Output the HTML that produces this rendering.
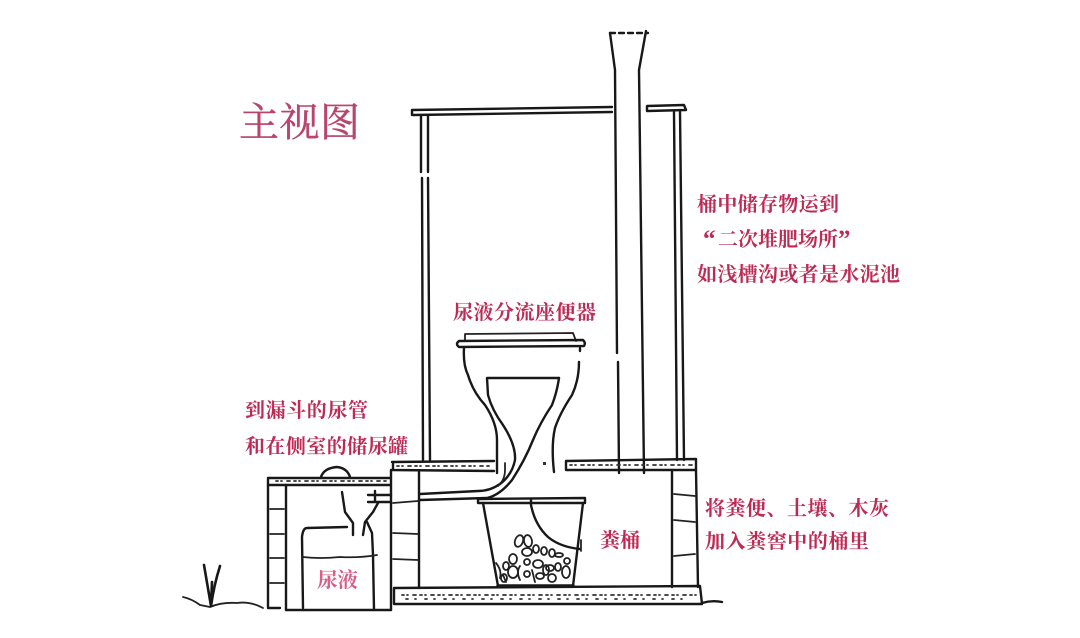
<!DOCTYPE html>
<html lang="zh"><head><meta charset="utf-8"><style>
html,body{margin:0;padding:0;background:#fff;width:1080px;height:638px;overflow:hidden}
svg{display:block}
text{font-family:"Liberation Serif","Noto Serif CJK SC",serif;fill:#bd2b55}
.l{fill:none;stroke:#181818;stroke-width:2.4;stroke-linecap:round;stroke-linejoin:round}
.t{fill:none;stroke:#222;stroke-width:1.8;stroke-linecap:round;stroke-linejoin:round}
.d{fill:none;stroke:#333;stroke-width:1.8;stroke-dasharray:2 3 1 5 3 4;stroke-linecap:round}
</style></head><body>
<svg width="1080" height="638" viewBox="0 0 1080 638" xmlns="http://www.w3.org/2000/svg">
<rect width="1080" height="638" fill="#fff"/>

<!-- chimney -->
<path class="l" d="M610 33L615 70L617 353M618 362L619 473"/>
<path class="l" d="M646 31L639 70L644 473"/>
<path class="l" d="M610 33H648" stroke-dasharray="5 4"/>
<!-- roof -->
<path class="l" d="M412 110L612 107M413 115L612 112M412 110V115"/>
<path class="l" d="M647 106L684 105L686 110L647 111Z"/>
<!-- room posts -->
<path class="l" d="M421 116L421 172M428 116V172M422 178L423 460M428 178L430 460"/>
<path class="l" d="M674 112L677 460M680 112L684 460"/>

<!-- toilet lid & seat -->
<path class="t" d="M465 341V334L573 333L576 341"/>
<path class="l" d="M459 341L583 340Q586 343 584 346L459 347Q455 344 459 341Z"/>
<path class="l" d="M464 348Q463 365 468 375Q473 392 485 405Q497 423 497 440V473"/>
<path class="l" d="M580 348V351M579 362Q579 380 572 395Q560 413 555 428Q551 445 554 472"/>
<path class="l" d="M488 378H559"/>
<path class="l" d="M487 378L488 395Q492 410 503 425Q516 445 515 460Q512 475 500 484Q490 491 478 491L420 494"/>
<path class="l" d="M559 378Q557 392 552 405Q540 423 533 440Q525 460 512 480Q500 495 487 498L420 500"/>
<path class="t" d="M505 463V470Q505 480 498 486"/>
<rect x="543" y="462" width="3" height="3" fill="#333"/>

<!-- floor slabs -->
<path class="l" d="M392 462L494 461M392 470L494 471M393 462V470"/>
<path class="d" d="M397 466H491"/>
<path class="l" d="M566 461L696 459V470L566 470Z"/>
<path class="d" d="M570 465H692"/>

<!-- main pit walls -->
<path class="l" d="M391 470V610M419 472V588"/>
<path class="t" d="M393 503L418 501M393 533L418 534M393 559L418 560"/>
<path class="l" d="M672 470V587M696 470L698 587"/>
<path class="t" d="M674 494L695 496M674 520L695 522M674 556L695 554"/>

<!-- base slab -->
<path class="l" d="M394 588L700 586L702 604H394Z"/>
<path class="d" d="M402 595H696"/>
<path class="d" d="M406 599H690" style="stroke-dasharray:2 7 1 9"/>
<path class="l" d="M702 603Q712 600 722 602"/>

<!-- bucket -->
<path class="l" d="M478 499L585 498V503L478 503Z"/>
<path class="l" d="M483 503L498 586M583 503L573 586"/>
<path class="l" d="M498 586H573" style="stroke-width:3.5"/>
<path class="l" d="M531 500V505Q535 525 548 537Q560 547 580 549"/>
<path class="t" d="M581 540V551"/>
<g class="t">
<ellipse cx="519" cy="541" rx="4" ry="6" transform="rotate(20 519 541)"/>
<ellipse cx="528" cy="541" rx="4" ry="6" transform="rotate(-10 528 541)"/>
<ellipse cx="527" cy="552" rx="5" ry="4"/>
<ellipse cx="536" cy="549" rx="3" ry="4"/>
<ellipse cx="544" cy="551" rx="3" ry="4"/>
<ellipse cx="552" cy="553" rx="3" ry="4"/>
<ellipse cx="559" cy="555" rx="4" ry="2"/>
<ellipse cx="513" cy="559" rx="4" ry="5"/>
<ellipse cx="506" cy="566" rx="3" ry="4"/>
<ellipse cx="527" cy="562" rx="3" ry="3"/>
<ellipse cx="538" cy="564" rx="5" ry="4"/>
<ellipse cx="550" cy="568" rx="4" ry="3"/>
<ellipse cx="513" cy="572" rx="5" ry="6"/>
<ellipse cx="527" cy="574" rx="3" ry="3"/>
<ellipse cx="540" cy="576" rx="4" ry="3"/>
<ellipse cx="552" cy="578" rx="4" ry="4"/>
<ellipse cx="566" cy="572" rx="4" ry="6"/>
<ellipse cx="567" cy="561" rx="3" ry="3"/>
<ellipse cx="546" cy="570" rx="3" ry="5"/>
<ellipse cx="558" cy="567" rx="3" ry="4"/>
<ellipse cx="504" cy="578" rx="3" ry="4"/>
<path d="M496 563Q502 570 500 578M503 575L506 582M520 566Q516 572 520 580M532 570L535 582"/>
</g>

<!-- side chamber -->
<path class="l" d="M268 478H390M268 485H390M268 478V485"/>
<path class="d" d="M276 481H386"/>
<path class="l" d="M321 477Q324 468 337 467Q347 468 350 477"/>
<path class="l" d="M268 485V607M286 485V610"/>
<path class="t" d="M270 509H284M270 534H284M270 558H284M270 583H284"/>
<path class="l" d="M268 608H280M286 610H391"/>
<!-- tank -->
<path class="l" d="M342 492L345 512L353 523V535"/>
<path class="l" d="M303 608L302 537Q303 528 307 528L347 527"/>
<path class="l" d="M378 503L373 512L365 522L363 535"/>
<path class="l" d="M367 522L372 533L373 555L374 610"/>
<path class="t" d="M303 557Q320 559 340 557Q360 558 377 555"/>
<path class="l" d="M368 495H391M368 502H391M375 491V502"/>

<!-- ground & plant -->
<path class="t" d="M183 597Q192 599 200 605L210 607Q222 602 237 603Q250 601 263 608"/>
<path class="l" d="M211 606L204 565M211 606L212 582M211 606Q214 585 220 566" style="stroke-width:2.6"/>

<!-- labels -->
<text x="239" y="136" font-size="40" style="fill:#b9446c;stroke:#b9446c;stroke-width:.4" textLength="121">主视图</text>
<g font-size="20" font-weight="700">
<text x="697" y="211" textLength="142">桶中储存物运到</text>
<text x="703" y="247" font-size="25">“</text>
<text x="718" y="246" textLength="120">二次堆肥场所</text>
<text x="838" y="247" font-size="25">”</text>
<text x="697" y="281" textLength="203">如浅槽沟或者是水泥池</text>
<text x="453" y="319" textLength="143">尿液分流座便器</text>
<text x="245" y="417" textLength="123">到漏斗的尿管</text>
<text x="245" y="453" textLength="163">和在侧室的储尿罐</text>
<text x="705" y="515" textLength="184">将粪便、土壤、木灰</text>
<text x="705" y="548" textLength="164">加入粪窖中的桶里</text>
<text x="600" y="547" textLength="40">粪桶</text>
<text x="317" y="587" font-size="20.5" style="fill:#d65f88" textLength="41">尿液</text>
</g>
</svg>
</body></html>
